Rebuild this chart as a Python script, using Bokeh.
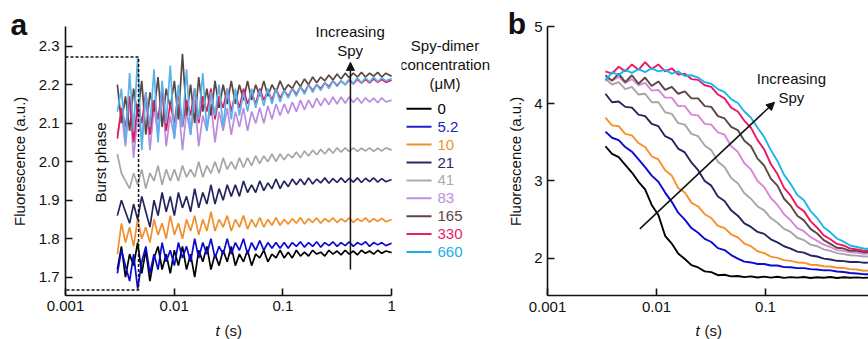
import numpy as np
from bokeh.plotting import figure
from bokeh.models import Range1d, FixedTicker, Label, Arrow, NormalHead
from bokeh.layouts import row
from bokeh.embed import file_html
from bokeh.resources import INLINE
from bokeh.core.properties import value

FONT = "Liberation Sans"

# ---------------- data ----------------
concentrations = ["0", "5.2", "10", "21", "41", "83", "165", "330", "660"]
colors_a = ["#000000", "#0a0ad2", "#f0902c", "#25255e", "#a6a6a6", "#b98ce0", "#5b4741", "#e8185e", "#5ab2ea"]
colors_b = ["#000000", "#0a0ad2", "#f7922a", "#25255e", "#a6a6a6", "#d986d8", "#5b4741", "#ee1763", "#18b6ec"]
legend_colors = ["#000000", "#2020cc", "#f0902c", "#2a2a62", "#ababab", "#bb8fe0", "#5b4741", "#ec1c6c", "#1aaee8"]

# panel a: time (s)
t_a = [0.00300, 0.00327, 0.00356, 0.00389, 0.00423, 0.00461, 0.00503, 0.00548, 0.00598, 0.00652, 0.00710, 0.00774, 0.00844, 0.00920,
       0.01003, 0.01093, 0.01191, 0.01298, 0.01415, 0.01543, 0.01681, 0.01833, 0.01998, 0.02178, 0.02374, 0.02587, 0.02820, 0.03074,
       0.03350, 0.03652, 0.03980, 0.04339, 0.04729, 0.05155, 0.05619, 0.06124, 0.06675, 0.07276, 0.07931, 0.08644, 0.09423, 0.1027,
       0.1120, 0.1220, 0.1330, 0.1450, 0.1580, 0.1722, 0.1878, 0.2046, 0.2231, 0.2431, 0.2650, 0.2889,
       0.3149, 0.3432, 0.3741, 0.4078, 0.4445, 0.4845, 0.5281, 0.5756, 0.6274, 0.6839, 0.7454, 0.8125,
       0.8856, 1.0]

fa_0 = [1.72, 1.78, 1.70, 1.76, 1.73, 1.79, 1.71, 1.77, 1.69, 1.75, 1.78, 1.72, 1.76, 1.71,
        1.77, 1.73, 1.78, 1.72, 1.76, 1.70, 1.77, 1.74, 1.78, 1.72, 1.76, 1.73, 1.77, 1.74,
        1.78, 1.73, 1.76, 1.74, 1.77, 1.73, 1.76, 1.75, 1.77, 1.74, 1.76, 1.75, 1.77, 1.75,
        1.765, 1.75, 1.77, 1.755, 1.765, 1.755, 1.77, 1.76, 1.765, 1.755, 1.77, 1.76, 1.768, 1.758,
        1.77, 1.76, 1.768, 1.758, 1.77, 1.762, 1.768, 1.76, 1.77, 1.762, 1.768, 1.764]
fa_5_2 = [1.71, 1.77, 1.73, 1.69, 1.76, 1.67, 1.74, 1.78, 1.71, 1.76, 1.72, 1.79, 1.74, 1.77,
          1.73, 1.79, 1.75, 1.78, 1.74, 1.80, 1.75, 1.79, 1.76, 1.80, 1.75, 1.78, 1.76, 1.80,
          1.76, 1.79, 1.77, 1.80, 1.76, 1.79, 1.77, 1.795, 1.77, 1.79, 1.775, 1.79, 1.775, 1.79,
          1.775, 1.79, 1.78, 1.792, 1.778, 1.79, 1.78, 1.792, 1.778, 1.79, 1.782, 1.792, 1.78, 1.79,
          1.782, 1.792, 1.78, 1.79, 1.784, 1.792, 1.78, 1.79, 1.784, 1.79, 1.782, 1.788]
fa_10 = [1.76, 1.84, 1.79, 1.83, 1.78, 1.85, 1.80, 1.83, 1.79, 1.85, 1.81, 1.84, 1.80, 1.86,
         1.81, 1.84, 1.80, 1.85, 1.82, 1.86, 1.81, 1.85, 1.82, 1.87, 1.82, 1.85, 1.83, 1.86,
         1.82, 1.85, 1.83, 1.86, 1.825, 1.85, 1.83, 1.855, 1.83, 1.85, 1.835, 1.855, 1.835, 1.85,
         1.838, 1.852, 1.84, 1.855, 1.838, 1.852, 1.842, 1.854, 1.84, 1.852, 1.844, 1.854, 1.842, 1.852,
         1.844, 1.854, 1.842, 1.852, 1.845, 1.854, 1.843, 1.852, 1.845, 1.853, 1.844, 1.85]
fa_21 = [1.86, 1.90, 1.87, 1.84, 1.89, 1.85, 1.91, 1.87, 1.83, 1.90, 1.86, 1.92, 1.87, 1.91,
         1.86, 1.92, 1.88, 1.91, 1.87, 1.93, 1.88, 1.92, 1.89, 1.94, 1.89, 1.93, 1.90, 1.94,
         1.91, 1.94, 1.91, 1.95, 1.92, 1.94, 1.92, 1.95, 1.925, 1.945, 1.93, 1.955, 1.93, 1.95,
         1.935, 1.955, 1.94, 1.955, 1.94, 1.958, 1.942, 1.955, 1.945, 1.958, 1.944, 1.956, 1.946, 1.958,
         1.946, 1.957, 1.947, 1.958, 1.946, 1.957, 1.948, 1.958, 1.947, 1.956, 1.948, 1.954]
fa_41 = [2.02, 1.97, 1.95, 1.93, 1.97, 1.94, 1.98, 1.93, 1.97, 1.95, 1.99, 1.94, 1.98, 1.95,
         1.98, 1.95, 1.99, 1.96, 1.98, 1.96, 2.00, 1.96, 1.99, 1.97, 2.00, 1.97, 2.01, 1.98,
         2.00, 1.98, 2.01, 1.985, 2.01, 1.99, 2.015, 1.995, 2.015, 2.0, 2.02, 2.0, 2.02, 2.005,
         2.02, 2.01, 2.025, 2.01, 2.028, 2.015, 2.03, 2.018, 2.032, 2.02, 2.034, 2.022, 2.036, 2.025,
         2.036, 2.026, 2.036, 2.027, 2.035, 2.028, 2.036, 2.027, 2.035, 2.028, 2.036, 2.03]
fa_83 = [2.07, 2.13, 2.04, 2.16, 2.01, 2.12, 2.06, 2.17, 2.03, 2.14, 2.07, 2.18, 2.04, 2.12,
         2.06, 2.15, 2.03, 2.13, 2.07, 2.16, 2.04, 2.12, 2.08, 2.15, 2.05, 2.13, 2.08, 2.14,
         2.07, 2.13, 2.09, 2.14, 2.08, 2.13, 2.10, 2.14, 2.10, 2.145, 2.11, 2.15, 2.12, 2.15,
         2.125, 2.155, 2.13, 2.16, 2.135, 2.16, 2.14, 2.165, 2.145, 2.165, 2.148, 2.168, 2.15, 2.168,
         2.152, 2.168, 2.154, 2.166, 2.152, 2.166, 2.155, 2.165, 2.153, 2.166, 2.155, 2.16]
fa_165 = [2.20, 2.10, 2.17, 2.08, 2.19, 2.12, 2.21, 2.07, 2.18, 2.13, 2.22, 2.09, 2.19, 2.14,
          2.21, 2.11, 2.28, 2.12, 2.20, 2.10, 2.22, 2.13, 2.19, 2.12, 2.21, 2.14, 2.20, 2.15,
          2.21, 2.15, 2.20, 2.16, 2.21, 2.16, 2.20, 2.17, 2.21, 2.17, 2.20, 2.18, 2.21, 2.185,
          2.20, 2.19, 2.21, 2.195, 2.215, 2.20, 2.22, 2.205, 2.22, 2.21, 2.225, 2.212, 2.228, 2.215,
          2.23, 2.218, 2.23, 2.22, 2.232, 2.22, 2.23, 2.222, 2.232, 2.22, 2.23, 2.222]
fa_330 = [2.06, 2.14, 2.09, 2.17, 2.05, 2.15, 2.10, 2.18, 2.07, 2.16, 2.11, 2.19, 2.08, 2.15,
          2.10, 2.18, 2.09, 2.16, 2.12, 2.19, 2.10, 2.17, 2.13, 2.19, 2.11, 2.17, 2.14, 2.19,
          2.13, 2.18, 2.14, 2.19, 2.15, 2.18, 2.15, 2.19, 2.16, 2.185, 2.16, 2.19, 2.165, 2.185,
          2.17, 2.19, 2.175, 2.195, 2.18, 2.2, 2.185, 2.2, 2.19, 2.205, 2.195, 2.21, 2.198, 2.21,
          2.2, 2.212, 2.202, 2.214, 2.204, 2.214, 2.205, 2.215, 2.206, 2.214, 2.206, 2.212]
fa_660 = [2.13, 2.19, 2.05, 2.23, 2.08, 2.27, 2.03, 2.18, 2.09, 2.24, 2.05, 2.21, 2.10, 2.25,
          2.06, 2.20, 2.09, 2.24, 2.07, 2.19, 2.11, 2.23, 2.08, 2.18, 2.12, 2.20, 2.09, 2.19,
          2.11, 2.19, 2.12, 2.18, 2.13, 2.19, 2.14, 2.185, 2.145, 2.19, 2.15, 2.19, 2.155, 2.185,
          2.165, 2.19, 2.17, 2.195, 2.175, 2.2, 2.18, 2.2, 2.185, 2.205, 2.19, 2.21, 2.195, 2.21,
          2.2, 2.215, 2.203, 2.218, 2.205, 2.218, 2.207, 2.22, 2.208, 2.218, 2.21, 2.216]

# panel b: time (s)
t_b = [0.00340, 0.00391, 0.00450, 0.00517, 0.00595, 0.00684, 0.00786, 0.00904, 0.0104, 0.0120,
       0.0138, 0.0158, 0.0182, 0.0209, 0.0241, 0.0277, 0.0318, 0.0366, 0.0421, 0.0484,
       0.0557, 0.0640, 0.0736, 0.0846, 0.0973, 0.1119, 0.1287, 0.1480, 0.1702, 0.1958,
       0.2251, 0.2589, 0.2977, 0.3424, 0.3937, 0.4528, 0.5207, 0.5988, 0.6886, 0.7919,
       0.9107]

fb_0 = [3.45, 3.35, 3.31, 3.21, 3.11, 2.99, 2.89, 2.69, 2.56, 2.29,
        2.19, 2.06, 1.99, 1.91, 1.88, 1.83, 1.82, 1.78, 1.785, 1.765,
        1.77, 1.755, 1.765, 1.75, 1.762, 1.748, 1.76, 1.745, 1.755, 1.748,
        1.757, 1.744, 1.754, 1.746, 1.756, 1.744, 1.754, 1.746, 1.752, 1.745,
        1.75]
fb_5_2 = [3.64, 3.56, 3.53, 3.44, 3.38, 3.28, 3.18, 3.07, 2.99, 2.85,
          2.73, 2.59, 2.50, 2.39, 2.33, 2.25, 2.21, 2.13, 2.105, 2.04,
          1.995, 1.955, 1.945, 1.925, 1.925, 1.905, 1.905, 1.885, 1.883, 1.872,
          1.872, 1.858, 1.853, 1.843, 1.842, 1.828, 1.822, 1.808, 1.802, 1.793,
          1.791]
fb_10 = [3.82, 3.72, 3.71, 3.61, 3.59, 3.49, 3.44, 3.32, 3.28, 3.14,
         3.07, 2.91, 2.85, 2.72, 2.67, 2.57, 2.52, 2.42, 2.39, 2.31,
         2.27, 2.19, 2.155, 2.09, 2.065, 2.02, 2.005, 1.975, 1.965, 1.945,
         1.942, 1.915, 1.912, 1.895, 1.892, 1.877, 1.873, 1.858, 1.853, 1.838,
         1.84]
fb_21 = [4.13, 4.02, 4.03, 3.96, 3.95, 3.86, 3.84, 3.74, 3.71, 3.58,
         3.54, 3.42, 3.37, 3.24, 3.14, 3.00, 2.94, 2.80, 2.74, 2.62,
         2.55, 2.45, 2.405, 2.34, 2.315, 2.245, 2.205, 2.155, 2.125, 2.085,
         2.072, 2.035, 2.022, 1.995, 1.983, 1.966, 1.962, 1.95, 1.953, 1.942,
         1.943]
fb_41 = [4.32, 4.25, 4.28, 4.19, 4.22, 4.12, 4.13, 4.02, 4.02, 3.89,
         3.87, 3.75, 3.73, 3.61, 3.58, 3.46, 3.40, 3.25, 3.18, 3.04,
         2.97, 2.84, 2.77, 2.67, 2.62, 2.52, 2.46, 2.38, 2.34, 2.265,
         2.235, 2.175, 2.155, 2.115, 2.095, 2.065, 2.052, 2.038, 2.033, 2.022,
         2.021]
fb_83 = [4.34, 4.30, 4.35, 4.27, 4.32, 4.24, 4.27, 4.17, 4.18, 4.08,
         4.08, 3.97, 3.97, 3.86, 3.85, 3.74, 3.73, 3.63, 3.60, 3.45,
         3.38, 3.23, 3.15, 3.00, 2.92, 2.78, 2.69, 2.57, 2.49, 2.39,
         2.35, 2.275, 2.225, 2.175, 2.145, 2.105, 2.095, 2.075, 2.072, 2.058,
         2.06]
fb_165 = [4.37, 4.30, 4.39, 4.28, 4.37, 4.26, 4.34, 4.23, 4.29, 4.18,
          4.22, 4.13, 4.16, 4.07, 4.07, 3.97, 3.96, 3.84, 3.81, 3.70,
          3.66, 3.52, 3.45, 3.29, 3.20, 3.03, 2.94, 2.77, 2.68, 2.55,
          2.49, 2.38, 2.32, 2.235, 2.185, 2.135, 2.125, 2.095, 2.095, 2.078,
          2.082]
fb_330 = [4.42, 4.39, 4.48, 4.42, 4.51, 4.44, 4.54, 4.45, 4.51, 4.42,
          4.46, 4.38, 4.39, 4.32, 4.31, 4.24, 4.22, 4.12, 4.07, 3.95,
          3.90, 3.78, 3.69, 3.53, 3.41, 3.22, 3.09, 2.91, 2.81, 2.67,
          2.61, 2.48, 2.395, 2.295, 2.245, 2.185, 2.165, 2.125, 2.112, 2.098,
          2.102]
fb_660 = [4.30, 4.41, 4.37, 4.44, 4.40, 4.45, 4.41, 4.46, 4.42, 4.44,
          4.39, 4.42, 4.36, 4.37, 4.34, 4.28, 4.26, 4.19, 4.15, 4.06,
          4.01, 3.90, 3.82, 3.69, 3.57, 3.40, 3.26, 3.08, 2.96, 2.82,
          2.75, 2.61, 2.52, 2.40, 2.335, 2.255, 2.215, 2.165, 2.145, 2.125,
          2.122]

series_a = [fa_0, fa_5_2, fa_10, fa_21, fa_41, fa_83, fa_165, fa_330, fa_660]
series_b = [fb_0, fb_5_2, fb_10, fb_21, fb_41, fb_83, fb_165, fb_330, fb_660]

# axes ticks
xticks = [0.001, 0.01, 0.1, 1]
xtick_labels = ["0.001", "0.01", "0.1", "1"]
yticks_a = [1.7, 1.8, 1.9, 2.0, 2.1, 2.2, 2.3]
yticks_a_labels = ["1.7", "1.8", "1.9", "2.0", "2.1", "2.2", "2.3"]
yticks_b = [2, 3, 4, 5]
yticks_b_labels = ["2", "3", "4", "5"]

# axis extents (data)
xa_min, xa_max, ya_min, ya_max = 0.001, 1.0, 1.6525, 2.351
xb_min, xb_max, yb_min, yb_max = 0.001, 0.881, 1.513, 5.0

# burst-phase box (panel a)
burst_t = [0.001, 0.0047, 0.0047, 0.001]
burst_f = [2.272, 2.272, 1.667, 1.667]

H = 339
INK = "#111111"


def make_fig(w, xr, yr):
    p = figure(width=w, height=H, x_axis_type="log", x_range=Range1d(*xr), y_range=Range1d(*yr),
               output_backend="svg", toolbar_location=None,
               min_border=0, min_border_left=0, min_border_right=0, min_border_top=0, min_border_bottom=0)
    p.outline_line_color = None
    p.grid.visible = False
    p.background_fill_color = "white"
    p.border_fill_color = "white"
    return p


def style(p, xb, yb, yt, ytl, ystand):
    for ax in (p.xaxis[0], p.yaxis[0]):
        ax.axis_line_width = 1.6
        ax.axis_line_color = INK
        ax.major_tick_line_width = 1.6
        ax.major_tick_line_color = INK
        ax.major_tick_in = 7
        ax.major_tick_out = 0
        ax.minor_tick_in = 0
        ax.minor_tick_out = 0
        ax.major_label_text_font = FONT
        ax.major_label_text_font_size = "15px"
        ax.major_label_text_color = INK
    p.xaxis[0].fixed_location = yb[0]
    p.xaxis[0].bounds = xb
    p.xaxis[0].ticker = FixedTicker(ticks=xticks)
    p.xaxis[0].major_label_overrides = dict(zip(xticks, xtick_labels))
    p.xaxis[0].major_label_standoff = 6
    p.yaxis[0].fixed_location = xb[0]
    p.yaxis[0].bounds = yb
    p.yaxis[0].ticker = FixedTicker(ticks=yt)
    p.yaxis[0].major_label_overrides = dict(zip(yt, ytl))
    p.yaxis[0].major_label_standoff = ystand


def txt(p, x, y, s, size="15px", align="center", baseline="middle", angle=0.0, style="normal", color=INK):
    p.add_layout(Label(x=x, y=y, text=s, text_font=FONT, text_font_size=size, text_align=align,
                       text_baseline=baseline, angle=angle, text_font_style=style, text_color=color))


# ---------------- panel a ----------------
pa = make_fig(401, (0.0002523, 1.2333), (1.5382, 2.4187))
style(pa, (xa_min, xa_max), (ya_min, ya_max), yticks_a, yticks_a_labels, 6)

for ys, c in zip(series_a, colors_a):
    pa.line(t_a, ys, line_color=c, line_width=1.7)

pa.line(burst_t, burst_f, line_color=INK, line_width=1.5, line_dash="3 2")
txt(pa, 0.0021, 1.998, "Burst phase", angle=np.pi / 2)
pa.add_layout(Arrow(end=NormalHead(size=8, fill_color=INK, line_color=INK),
                    x_start=0.418, y_start=1.72, x_end=0.418, y_end=2.258,
                    line_width=1.5, line_color=INK))
txt(pa, 0.416, 2.338, "Increasing")
txt(pa, 0.416, 2.289, "Spy")
txt(pa, 0.000312, 2.3553, "a", size="30px", align="left", style="bold")
txt(pa, 0.000378, 2.001, "Fluorescence (a.u.)", angle=np.pi / 2)
txt(pa, 0.02399, 1.5615, "t", align="left", style="italic")
txt(pa, 0.02904, 1.5615, "(s)", align="left")

# ---------------- legend ----------------
LW = 94
pl = figure(width=LW, height=H, x_range=Range1d(0, LW), y_range=Range1d(H, 0),
            output_backend="svg", toolbar_location=None, x_axis_location=None, y_axis_location=None,
            min_border=0, min_border_left=0, min_border_right=0, min_border_top=0, min_border_bottom=0)
pl.outline_line_color = None
pl.grid.visible = False
title_lines = ["Spy-dimer", "concentration", "(\u03bcM)"]
pl.text(x=[43.5] * 3, y=[45, 64, 83], text=title_lines, text_font=value(FONT), text_font_size="15px",
        text_align="center", text_baseline="middle", text_color=INK)
row_y = [108.3 + 17.9 * i for i in range(len(concentrations))]
pl.segment(x0=[5] * len(concentrations), y0=row_y, x1=[30] * len(concentrations), y1=row_y,
           line_color=legend_colors, line_width=2)
pl.text(x=[36] * len(concentrations), y=row_y, text=concentrations, text_font=value(FONT),
        text_font_size="15px", text_align="left", text_baseline="middle", text_color=legend_colors)

# ---------------- panel b ----------------
pb = make_fig(373, (0.0003334, 0.8810), (0.9469, 5.338))
style(pb, (xb_min, xb_max), (yb_min, yb_max), yticks_b, yticks_b_labels, 5)

for ys, c in zip(series_b, colors_b):
    pb.line(t_b, ys, line_color=c, line_width=1.9)

pb.add_layout(Arrow(end=NormalHead(size=8, fill_color=INK, line_color=INK),
                    x_start=0.00703, y_start=2.38, x_end=0.121, y_end=4.02,
                    line_width=1.5, line_color=INK))
txt(pb, 0.173, 4.33, "Increasing")
txt(pb, 0.173, 4.08, "Spy")
txt(pb, 0.000432, 5.034, "b", size="30px", align="left", style="bold")
txt(pb, 0.000509, 3.255, "Fluorescence (a.u.)", angle=np.pi / 2)
txt(pb, 0.02281, 1.0635, "t", align="left", style="italic")
txt(pb, 0.02756, 1.0635, "(s)", align="left")

layout = row(pa, pl, pb, spacing=0)
open("out.html", "w").write(file_html(layout, INLINE))
